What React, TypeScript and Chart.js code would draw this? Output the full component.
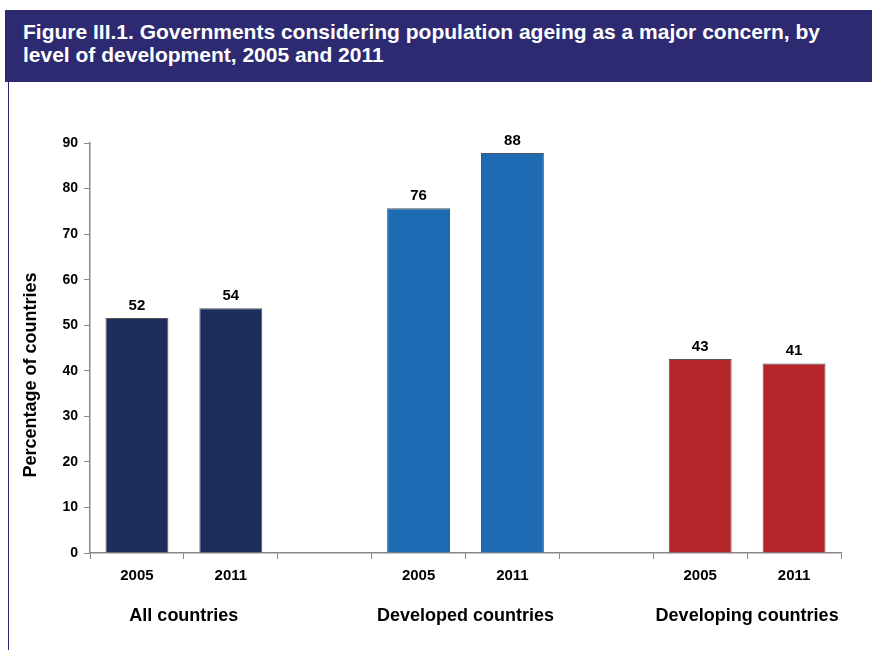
import React, { useEffect, useRef } from "react";
import { Chart, registerables } from "chart.js";

Chart.register(...registerables);

const titleLines = [
  "Figure III.1. Governments considering population ageing as a major concern, by",
  "level of development, 2005 and 2011",
];
const yearLabels = ["2005", "2011", "", "2005", "2011", "", "2005", "2011"];
const groupLabels = ["All countries", "Developed countries", "Developing countries"];
const groupIndexPairs = [[0, 1], [3, 4], [6, 7]];
const values = [51.6, 53.7, null, 75.7, 87.8, null, 42.6, 41.6];
const valueLabels = ["52", "54", "", "76", "88", "", "43", "41"];
const barColors = ["#1f2d5c", "#1f2d5c", "#ffffff", "#1e6bb4", "#1e6bb4", "#ffffff", "#b52428", "#b52428"];
const yTicks = [0, 10, 20, 30, 40, 50, 60, 70, 80, 90];
const yTitle = "Percentage of countries";

const FONT = 'Arial, "Liberation Sans", Helvetica, "DejaVu Sans"';

export default function App() {
  const ref = useRef<HTMLCanvasElement | null>(null);

  useEffect(() => {
    document.body.style.margin = "0";
    const canvas = ref.current;
    if (!canvas) return;

    const extras = {
      id: "extras",
      afterDatasetsDraw(chart: any) {
        const ctx = chart.ctx;
        const x = chart.scales.x;
        const y = chart.scales.y;
        ctx.save();
        ctx.fillStyle = "#000";
        ctx.textAlign = "center";
        ctx.textBaseline = "alphabetic";
        ctx.font = `bold 15px ${FONT}`;
        values.forEach((v, i) => {
          if (v == null) return;
          ctx.fillText(valueLabels[i], x.getPixelForValue(i), y.getPixelForValue(v) - 8);
        });
        ctx.font = `bold 18px ${FONT}`;
        groupIndexPairs.forEach((pair, gi) => {
          const cx = (x.getPixelForValue(pair[0]) + x.getPixelForValue(pair[1])) / 2;
          ctx.fillText(groupLabels[gi], cx, 621);
        });
        ctx.translate(31, 375);
        ctx.rotate(-Math.PI / 2);
        ctx.textBaseline = "middle";
        ctx.font = `bold 18px ${FONT}`;
        ctx.fillText(yTitle, 0, 0);
        ctx.restore();
      },
    };

    const chart = new Chart(canvas, {
      type: "bar",
      data: {
        labels: yearLabels,
        datasets: [
          {
            data: values as any,
            backgroundColor: barColors,
            borderColor: "#555555",
            borderWidth: 1,
            barPercentage: 0.67,
            categoryPercentage: 1,
          },
        ],
      },
      options: {
        animation: false,
        responsive: false,
        maintainAspectRatio: false,
        events: [],
        layout: { padding: { left: 0, right: 31, top: 143, bottom: 0 } },
        plugins: {
          legend: { display: false },
          title: { display: false },
          tooltip: { enabled: false },
        },
        scales: {
          x: {
            grid: {
              display: true,
              drawOnChartArea: false,
              drawTicks: true,
              tickLength: 6,
              offset: true,
              color: "#888888",
            },
            border: { display: true, color: "#888888", width: 1.5 },
            ticks: {
              color: "#000",
              font: { family: FONT, size: 15, weight: "bold" },
              padding: 8,
              maxRotation: 0,
              autoSkip: false,
            },
            afterFit(scale: any) {
              scale.height = 97;
            },
          },
          y: {
            min: 0,
            max: 90,
            afterBuildTicks(scale: any) {
              scale.ticks = yTicks.map((v) => ({ value: v }));
            },
            grid: {
              display: true,
              drawOnChartArea: false,
              drawTicks: true,
              tickLength: 6,
              color: "#888888",
            },
            border: { display: true, color: "#888888", width: 1.5 },
            ticks: {
              color: "#000",
              font: { family: FONT, size: 14, weight: "bold" },
              padding: 6,
            },
            afterFit(scale: any) {
              scale.width = 90;
            },
          },
        },
      },
      plugins: [extras],
    } as any);

    return () => chart.destroy();
  }, []);

  return (
    <div style={{ position: "relative", width: 872, height: 650, overflow: "hidden", background: "#fff" }}>
      <canvas ref={ref} width={872} height={650} style={{ position: "absolute", left: 0, top: 0 }} />
      <div
        style={{
          position: "absolute",
          left: 8,
          top: 82,
          width: 0,
          height: 568,
          borderLeft: "1.5px solid #2e2a72",
        }}
      />
      <div
        style={{
          position: "absolute",
          left: 5,
          top: 10,
          width: 867,
          height: 72,
          background: "#2e2a72",
          color: "#fff",
          fontFamily: FONT,
          fontWeight: "bold",
          fontSize: 21,
          lineHeight: "23px",
          padding: "10px 0 0 18px",
          boxSizing: "border-box",
        }}
      >
        {titleLines.map((t, i) => (
          <div key={i} style={{ whiteSpace: "nowrap" }}>{t}</div>
        ))}
      </div>
    </div>
  );
}
